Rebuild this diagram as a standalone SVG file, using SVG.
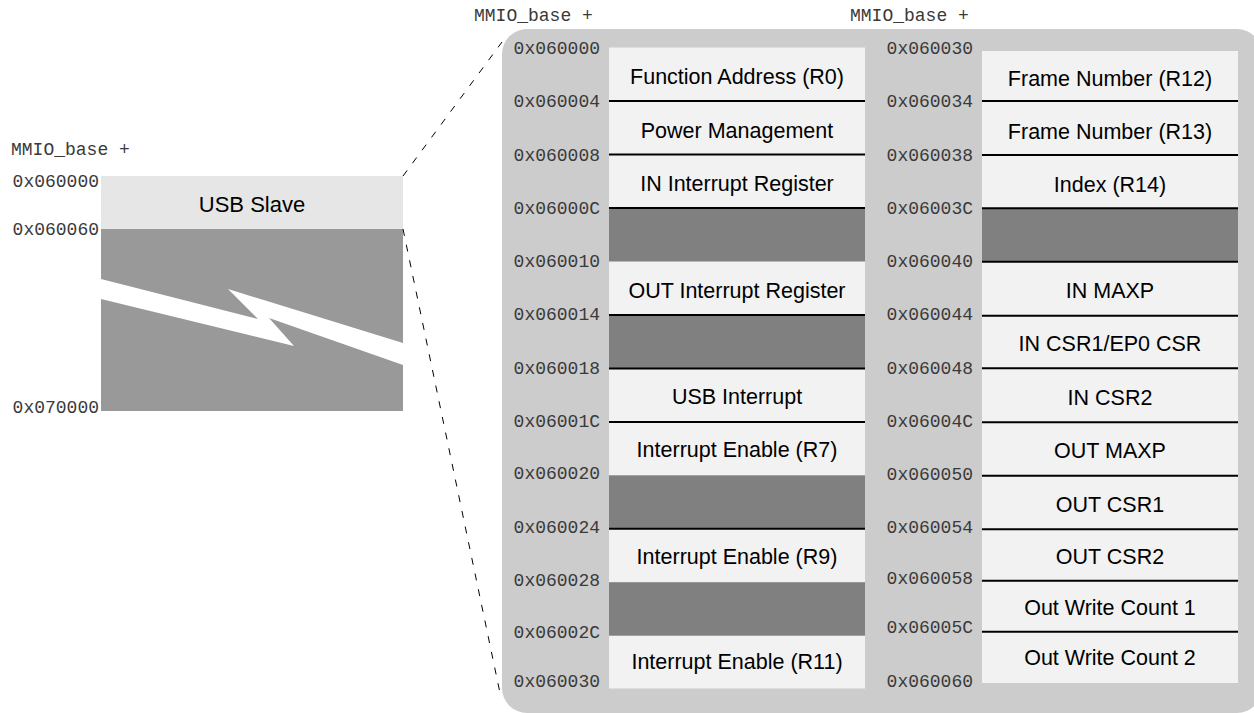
<svg xmlns="http://www.w3.org/2000/svg" width="1254" height="713" viewBox="0 0 1254 713">
<style>
.mono{font-family:"Liberation Mono","DejaVu Sans Mono",monospace;font-size:18px;fill:#3a3a3a}
.lbl{font-family:"Liberation Sans",Arial,sans-serif;font-size:21.5px;fill:#000;text-anchor:middle}
.addrL{text-anchor:end}
.lt{fill:#f2f2f2}
.dk{fill:#808080}
.sep{stroke:#000;stroke-width:2}
.dash{stroke:#000;stroke-width:1;stroke-dasharray:7 9;fill:none}
</style>
<rect width="1254" height="713" fill="#fff"/>

<g id="usb-slave-block">
<text class="mono" x="11" y="155">MMIO_base +</text>
<rect x="101" y="176" width="302" height="53" fill="#e6e6e6"/>
<rect x="101" y="229" width="302" height="182" fill="#999"/>
<polygon points="101,279 258,319 228,289 403,343 403,365 269,318 294,346 101,299" fill="#fff"/>
<text class="lbl" x="252" y="212" style="font-size:22px">USB Slave</text>
<text class="mono addrL" x="99" y="187">0x060000</text>
<text class="mono addrL" x="99" y="235">0x060060</text>
<text class="mono addrL" x="99" y="413">0x070000</text>
</g>

<g id="connectors">
<line class="dash" x1="403" y1="176" x2="502" y2="42"/>
<line class="dash" x1="403" y1="229" x2="500" y2="693"/>
</g>

<g id="register-panel">
<rect x="502" y="29" width="760" height="684" rx="25" ry="25" fill="#ccc"/>
<text class="mono" x="474" y="21">MMIO_base +</text>
<text class="mono" x="850" y="21">MMIO_base +</text>
</g>

<g id="column-1">
<rect class="lt" x="609" y="47.5" width="256" height="641"/>
<rect class="dk" x="609" y="208" width="256" height="53.5"/>
<rect class="dk" x="609" y="315" width="256" height="53.5"/>
<rect class="dk" x="609" y="475.3" width="256" height="53.5"/>
<rect class="dk" x="609" y="582.2" width="256" height="53.5"/>
<line class="sep" x1="609" y1="101" x2="865" y2="101"/>
<line class="sep" x1="609" y1="154.5" x2="865" y2="154.5"/>
<line class="sep" x1="609" y1="208" x2="865" y2="208"/>
<line class="sep" x1="609" y1="315" x2="865" y2="315"/>
<line class="sep" x1="609" y1="368.5" x2="865" y2="368.5"/>
<line class="sep" x1="609" y1="422" x2="865" y2="422"/>
<line class="sep" x1="609" y1="528.8" x2="865" y2="528.8"/>
<text class="lbl" x="737" y="84">Function Address (R0)</text>
<text class="lbl" x="737" y="137.5">Power Management</text>
<text class="lbl" x="737" y="190.5">IN Interrupt Register</text>
<text class="lbl" x="737" y="297.5">OUT Interrupt Register</text>
<text class="lbl" x="737" y="404">USB Interrupt</text>
<text class="lbl" x="737" y="457">Interrupt Enable (R7)</text>
<text class="lbl" x="737" y="564">Interrupt Enable (R9)</text>
<text class="lbl" x="737" y="669">Interrupt Enable (R11)</text>
<text class="mono addrL" x="600" y="54">0x060000</text>
<text class="mono addrL" x="600" y="107">0x060004</text>
<text class="mono addrL" x="600" y="160.5">0x060008</text>
<text class="mono addrL" x="600" y="214">0x06000C</text>
<text class="mono addrL" x="600" y="267">0x060010</text>
<text class="mono addrL" x="600" y="320">0x060014</text>
<text class="mono addrL" x="600" y="373.5">0x060018</text>
<text class="mono addrL" x="600" y="427">0x06001C</text>
<text class="mono addrL" x="600" y="479">0x060020</text>
<text class="mono addrL" x="600" y="533">0x060024</text>
<text class="mono addrL" x="600" y="586">0x060028</text>
<text class="mono addrL" x="600" y="638">0x06002C</text>
<text class="mono addrL" x="600" y="687">0x060030</text>
</g>

<g id="column-2">
<rect class="lt" x="982" y="51" width="256" height="632"/>
<rect class="dk" x="982" y="208.3" width="256" height="53.4"/>
<line class="sep" x1="982" y1="101" x2="1238" y2="101"/>
<line class="sep" x1="982" y1="155" x2="1238" y2="155"/>
<line class="sep" x1="982" y1="208.3" x2="1238" y2="208.3"/>
<line class="sep" x1="982" y1="261.7" x2="1238" y2="261.7"/>
<line class="sep" x1="982" y1="315.7" x2="1238" y2="315.7"/>
<line class="sep" x1="982" y1="368.3" x2="1238" y2="368.3"/>
<line class="sep" x1="982" y1="422.3" x2="1238" y2="422.3"/>
<line class="sep" x1="982" y1="475.7" x2="1238" y2="475.7"/>
<line class="sep" x1="982" y1="529.3" x2="1238" y2="529.3"/>
<line class="sep" x1="982" y1="580.7" x2="1238" y2="580.7"/>
<line class="sep" x1="982" y1="631.7" x2="1238" y2="631.7"/>
<text class="lbl" x="1110" y="86">Frame Number (R12)</text>
<text class="lbl" x="1110" y="138.5">Frame Number (R13)</text>
<text class="lbl" x="1110" y="191.5">Index (R14)</text>
<text class="lbl" x="1110" y="298">IN MAXP</text>
<text class="lbl" x="1110" y="351">IN CSR1/EP0 CSR</text>
<text class="lbl" x="1110" y="404.5">IN CSR2</text>
<text class="lbl" x="1110" y="458">OUT MAXP</text>
<text class="lbl" x="1110" y="511.5">OUT CSR1</text>
<text class="lbl" x="1110" y="563.5">OUT CSR2</text>
<text class="lbl" x="1110" y="614.5">Out Write Count 1</text>
<text class="lbl" x="1110" y="665">Out Write Count 2</text>
<text class="mono addrL" x="973" y="54">0x060030</text>
<text class="mono addrL" x="973" y="107">0x060034</text>
<text class="mono addrL" x="973" y="160.5">0x060038</text>
<text class="mono addrL" x="973" y="214">0x06003C</text>
<text class="mono addrL" x="973" y="267">0x060040</text>
<text class="mono addrL" x="973" y="320">0x060044</text>
<text class="mono addrL" x="973" y="373.5">0x060048</text>
<text class="mono addrL" x="973" y="427">0x06004C</text>
<text class="mono addrL" x="973" y="480">0x060050</text>
<text class="mono addrL" x="973" y="533">0x060054</text>
<text class="mono addrL" x="973" y="584">0x060058</text>
<text class="mono addrL" x="973" y="633">0x06005C</text>
<text class="mono addrL" x="973" y="687">0x060060</text>
</g>
</svg>
